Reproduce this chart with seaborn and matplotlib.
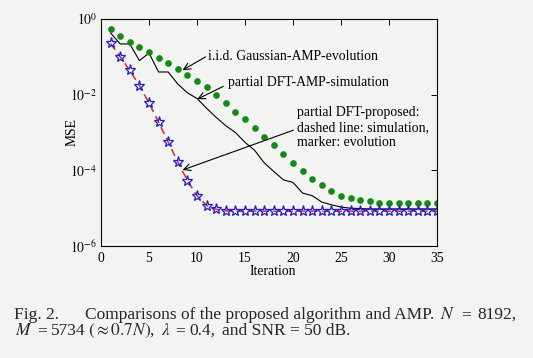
import matplotlib
matplotlib.use("Agg")
import matplotlib.pyplot as plt
import seaborn as sns
import pandas as pd

# ---------------- data ----------------
iterations = list(range(1, 36))

iid_gaussian_evolution = [
    0.543, 0.363, 0.251, 0.186, 0.132, 0.0933, 0.0692, 0.0490, 0.0339, 0.0229,
    0.0158, 9.77e-3, 5.89e-3, 3.47e-3, 2.29e-3, 1.35e-3, 7.76e-4, 4.57e-4, 2.69e-4, 1.58e-4,
    9.77e-5, 5.89e-5, 3.98e-5, 2.88e-5, 2.14e-5, 1.82e-5, 1.62e-5, 1.51e-5, 1.41e-5, 1.35e-5,
    1.35e-5, 1.35e-5, 1.35e-5, 1.35e-5, 1.35e-5]

dft_amp_simulation = [
    0.427, 0.219, 0.219, 0.0794, 0.126, 0.0398, 0.0398, 0.0191, 0.0112, 7.94e-3,
    4.37e-3, 2.51e-3, 1.51e-3, 1.00e-3, 5.50e-4, 3.39e-4, 1.58e-4, 9.33e-5, 5.62e-5, 4.79e-5,
    2.51e-5, 2.14e-5, 1.45e-5, 1.23e-5, 1.07e-5, 1.00e-5, 9.77e-6, 9.55e-6, 9.55e-6, 9.55e-6,
    9.55e-6, 9.55e-6, 9.55e-6, 9.55e-6, 9.55e-6]

dft_proposed_simulation = [
    0.226, 0.100, 0.0437, 0.0174, 6.03e-3, 1.86e-3, 5.62e-4, 1.66e-4, 5.37e-5, 2.14e-5,
    1.17e-5, 9.33e-6, 8.51e-6, 8.32e-6, 8.32e-6, 8.32e-6, 8.32e-6, 8.32e-6, 8.32e-6, 8.32e-6,
    8.32e-6, 8.32e-6, 8.32e-6, 8.32e-6, 8.32e-6, 8.32e-6, 8.32e-6, 8.32e-6, 8.32e-6, 8.32e-6,
    8.32e-6, 8.32e-6, 8.32e-6, 8.32e-6, 8.32e-6]

dft_proposed_evolution = [
    0.226, 0.100, 0.0437, 0.0174, 6.03e-3, 1.86e-3, 5.62e-4, 1.66e-4, 5.37e-5, 2.14e-5,
    1.17e-5, 9.33e-6, 8.51e-6, 8.32e-6, 8.32e-6, 8.32e-6, 8.32e-6, 8.32e-6, 8.32e-6, 8.32e-6,
    8.32e-6, 8.32e-6, 8.32e-6, 8.32e-6, 8.32e-6, 8.32e-6, 8.32e-6, 8.32e-6, 8.32e-6, 8.32e-6,
    8.32e-6, 8.32e-6, 8.32e-6, 8.32e-6, 8.32e-6]

x_ticks = [0, 5, 10, 15, 20, 25, 30, 35]
y_ticks = [1e0, 1e-2, 1e-4, 1e-6]
y_tick_labels = [r"$10^{0}$", r"$10^{-2}$", r"$10^{-4}$", r"$10^{-6}$"]

label_iid = "i.i.d. Gaussian-AMP-evolution"
label_dft = "partial DFT-AMP-simulation"
label_prop = "partial DFT-proposed:\ndashed line: simulation,\nmarker: evolution"

caption_line1 = ["Fig. 2.", "Comparisons of the proposed algorithm and AMP.", r"$N$", "=", "8192,"]
caption_line2 = [r"$M$", "=", "5734", r"$(\approx 0.7N)$,", r"$\lambda$", "=", "0.4,",
                 "and SNR = 50 dB."]

df = pd.DataFrame({
    "Iteration": iterations,
    "iid": iid_gaussian_evolution,
    "dft": dft_amp_simulation,
    "prop_sim": dft_proposed_simulation,
    "prop_evo": dft_proposed_evolution,
})

# ---------------- style ----------------
sns.set_theme(style="white")
plt.rcParams["font.family"] = ["Liberation Serif", "DejaVu Serif"]
plt.rcParams["mathtext.fontset"] = "stix"

bg = "#f3f3f1"
fig = plt.figure(figsize=(5.33, 3.58), dpi=100, facecolor=bg)
ax = fig.add_axes([0.1895, 0.3128, 0.6304, 0.6341])
ax.set_facecolor(bg)

green = "#138a13"
red = "#e8262b"
blue = "#1c1cd8"

sns.lineplot(data=df, x="Iteration", y="dft", ax=ax, color="black", linewidth=0.8)
sns.lineplot(data=df, x="Iteration", y="prop_sim", ax=ax, color=red,
             linewidth=1.1, linestyle=(0, (5, 3)))
sns.lineplot(data=df, x="Iteration", y="iid", ax=ax, color=green, linestyle="none",
             marker="o", markersize=4.8, markeredgewidth=0, markerfacecolor=green)
sns.lineplot(data=df, x="Iteration", y="prop_evo", ax=ax, color=blue, linestyle="none",
             marker="*", markersize=8, markerfacecolor="none",
             markeredgecolor=blue, markeredgewidth=0.9)

ax.set_yscale("log")
ax.set_xlim(0, 35)
ax.set_ylim(1e-6, 1e0)
ax.set_xticks(x_ticks)
ax.set_xticklabels([str(t) for t in x_ticks])
ax.set_yticks(y_ticks)
ax.set_yticklabels(y_tick_labels)
ax.yaxis.set_minor_locator(matplotlib.ticker.NullLocator())

fs = 9.8
ax.tick_params(axis="both", which="major", direction="in", top=True, right=True,
               length=4, width=0.7, colors="black", labelsize=fs)
ax.tick_params(axis="x", pad=4)
ax.tick_params(axis="y", pad=3)
for s in ax.spines.values():
    s.set_color("black")
    s.set_linewidth(0.8)

ax.set_xlabel("Iteration", fontsize=fs, color="black")
ax.set_ylabel("MSE", fontsize=fs, color="black")
ax.xaxis.set_label_coords(0.51, -0.085)
ax.yaxis.set_label_coords(-0.067, 0.5)

# ---------------- annotations ----------------
afs = 9.95
arrow = dict(arrowstyle="->", color="black", lw=0.8, shrinkA=0, shrinkB=0)
ax.annotate("", xy=(8.5, 0.0447), xytext=(10.9, 0.100), arrowprops=arrow)
ax.text(11.15, 0.105, label_iid, fontsize=afs, ha="left", va="center", color="black")

ax.annotate("", xy=(10.03, 7.6e-3), xytext=(12.74, 0.0166), arrowprops=arrow)
ax.text(13.2, 0.0204, label_dft, fontsize=afs, ha="left", va="center", color="black")

ax.annotate("", xy=(8.5, 1.02e-4), xytext=(20.03, 1.15e-3), arrowprops=arrow)
ax.text(20.45, 1.35e-3, label_prop, fontsize=afs, ha="left", va="center",
        linespacing=1.22, color="black")

# ---------------- caption (laid out piece by piece, justified) ----------------
W, H = 533.0, 358.0
cap = 12.5
renderer = fig.canvas.get_renderer()


def layout_line(pieces, y_px, x_start, x_end, weights, fixed_first_gap=None):
    texts = [fig.text(0, (H - y_px) / H, p, fontsize=cap, ha="left", va="baseline")
             for p in pieces]
    widths = [t.get_window_extent(renderer).width for t in texts]
    total_gap = (x_end - x_start) - sum(widths)
    gaps = [total_gap * w / sum(weights) for w in weights]
    if fixed_first_gap is not None:
        rest = total_gap - fixed_first_gap
        gaps = [fixed_first_gap] + [rest * w / sum(weights[1:]) for w in weights[1:]]
    x = x_start
    for i, t in enumerate(texts):
        t.set_x(x / W)
        x += widths[i] + (gaps[i] if i < len(gaps) else 0)


layout_line(caption_line1, 319.0, 14, 516, [1, 1, 1, 1],
            fixed_first_gap=83 - 14 - 43)
layout_line(caption_line2, 334.7, 15, 350, [1, 1, 0.55, 1.3, 1, 1, 1.3])

fig.savefig("out.png", dpi=100, facecolor=bg)
